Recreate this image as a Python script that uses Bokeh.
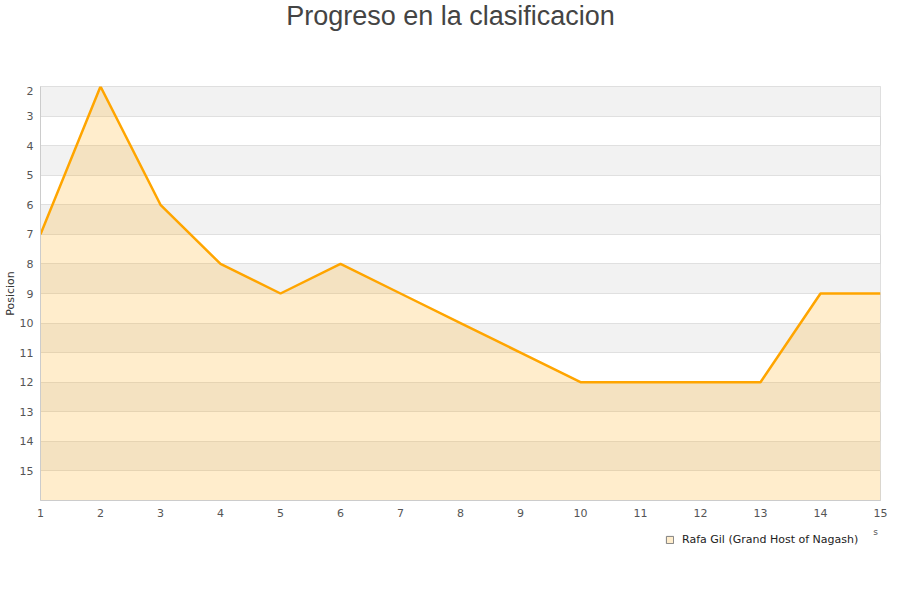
from bokeh.plotting import figure
from bokeh.layouts import column
from bokeh.models import (ColumnDataSource, FixedTicker, BoxAnnotation, Label,
                          Legend, LegendItem, Range1d)
from bokeh.embed import file_html
from bokeh.resources import INLINE

# ---- data ----
title_text = "Progreso en la clasificacion"
y_axis_label = "Posicion"
x_axis_label = "s"
series_name = "Rafa Gil (Grand Host of Nagash)"
rounds = [1, 2, 3, 4, 5, 6, 7, 8, 9, 10, 11, 12, 13, 14, 15]
positions = [7, 2, 6, 8, 9, 8, 9, 10, 11, 12, 12, 12, 12, 9, 9]
y_ticks = [2, 3, 4, 5, 6, 7, 8, 9, 10, 11, 12, 13, 14, 15]
y_best = 2
y_worst = 16

ORANGE = "#FFA500"
W = 900
FRAME_L, FRAME_R = 40, 880   # frames of the stacked figures are aligned


def strip(height):
    f = figure(width=W, height=height, x_range=Range1d(FRAME_L, FRAME_R),
               y_range=Range1d(height, 0),
               x_axis_type=None, y_axis_type=None, output_backend="svg",
               toolbar_location=None, min_border=0, outline_line_color=None,
               background_fill_color="white", border_fill_color="white")
    f.grid.visible = False
    return f


# ---- title strip ----
top = strip(86)
top.add_layout(Label(x=450, y=15, text=title_text, text_align="center",
                     text_baseline="middle", text_font="Liberation Sans",
                     text_font_size="27px", text_color="#444444"))

# ---- main chart ----
p = figure(width=W, height=440,
           x_range=Range1d(rounds[0], rounds[-1]),
           y_range=Range1d(y_worst, y_best),
           output_backend="svg", toolbar_location=None,
           min_border_left=FRAME_L, min_border_right=W - FRAME_R,
           min_border_top=0, min_border_bottom=26,
           background_fill_color="white", border_fill_color="white",
           outline_line_color="#d9d9d9")

bands = []
for t in y_ticks[::2]:
    b = BoxAnnotation(top=t, bottom=t + 1, fill_color="#f2f2f2", fill_alpha=1.0,
                      line_alpha=0, level="underlay")
    p.add_layout(b)
    bands.append(b)

p.xgrid.visible = False
p.ygrid.ticker = FixedTicker(ticks=y_ticks)
p.ygrid.grid_line_color = "#e0e0e0"
p.ygrid.grid_line_width = 1

src = ColumnDataSource(dict(x=rounds, y=positions, base=[y_worst] * len(rounds)))
p.varea(x="x", y1="y", y2="base", source=src, fill_color=ORANGE, fill_alpha=0.2)
p.line(x="x", y="y", source=src, line_color=ORANGE, line_width=2.5)

for ax in (p.xaxis[0], p.yaxis[0]):
    ax.major_tick_line_color = None
    ax.minor_tick_line_color = None
    ax.major_tick_out = 0
    ax.major_tick_in = 0
    ax.minor_tick_out = 0
    ax.minor_tick_in = 0
    ax.axis_line_color = "#cccccc"
    ax.major_label_text_font = "DejaVu Sans"
    ax.major_label_text_font_size = "11px"
    ax.major_label_text_color = "#555555"
    ax.axis_label_text_font = "DejaVu Sans"
    ax.axis_label_text_font_style = "normal"
    ax.axis_label_text_color = "#333333"
p.xaxis.ticker = FixedTicker(ticks=rounds)
p.yaxis.ticker = FixedTicker(ticks=y_ticks)
p.xaxis.major_label_standoff = 8
p.yaxis.major_label_standoff = 7
p.yaxis.axis_label = y_axis_label
p.yaxis.axis_label_text_font_size = "11px"
p.yaxis.axis_label_standoff = 0

band_ids = {id(b) for b in bands}
p.center = bands + [r for r in p.center if id(r) not in band_ids]

# ---- legend strip ----
bot = strip(74)
# zero-size quad from the first data point (falls outside this strip's range);
# it only provides the legend swatch
swatch_src = ColumnDataSource(dict(left=rounds[:1], right=rounds[:1],
                                   top=positions[:1], bottom=positions[:1]))
swatch = bot.quad(left="left", right="right", top="top", bottom="bottom",
                  source=swatch_src, fill_color="#FFEDCC", line_color="#808080",
                  line_width=1)
legend = Legend(items=[LegendItem(label=series_name, renderers=[swatch])],
                location=(625, 54), orientation="horizontal",
                border_line_alpha=0, background_fill_alpha=0,
                padding=0, margin=0, glyph_width=9, glyph_height=9,
                label_standoff=8, label_height=11,
                label_text_font="DejaVu Sans", label_text_font_size="11px",
                label_text_color="#222222", label_text_baseline="middle")
bot.add_layout(legend)
bot.add_layout(Label(x=875, y=5, text=x_axis_label, text_align="center",
                     text_baseline="middle", text_font="DejaVu Sans",
                     text_font_size="9px", text_color="#555555"))

layout = column(top, p, bot, spacing=0)
open("out.html", "w").write(file_html(layout, INLINE))
